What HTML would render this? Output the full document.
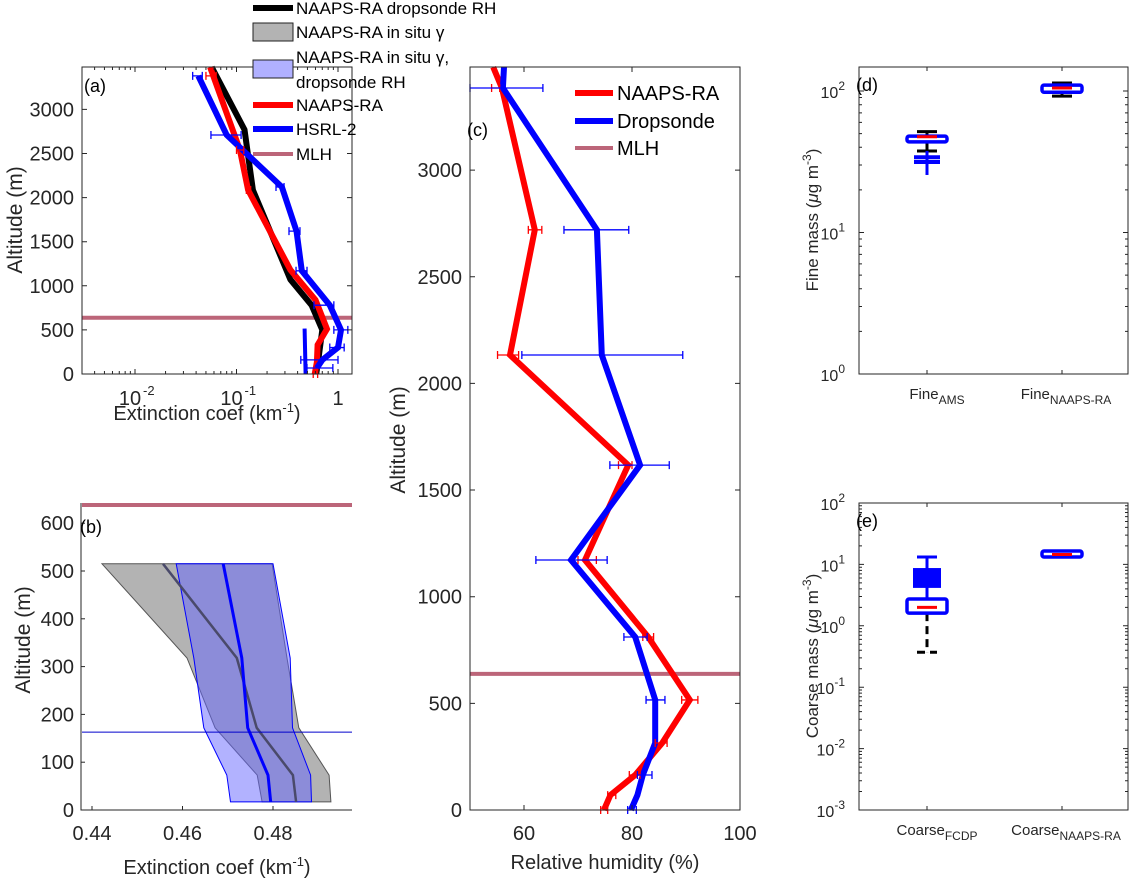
<!DOCTYPE html>
<html><head><meta charset="utf-8"><style>
html,body{margin:0;padding:0;background:#fff;}
svg{display:block;font-family:"Liberation Sans",Arial,sans-serif;}
</style></head><body>
<svg id="fig" width="1129" height="881" viewBox="0 0 1129 881" xmlns="http://www.w3.org/2000/svg">
<g id="g"></g>
</svg>
<script>
// ---------- data ----------
const aRedAlt = [3480, 2540, 2086, 1180, 840, 510, 330, 136, 0];
const aRedVal = [0.055, 0.108, 0.13, 0.34, 0.6, 0.78, 0.63, 0.62, 0.59];
const aBlkAlt = [3480, 2770, 2086, 1070, 780, 500, 160, 0];
const aBlkVal = [0.057, 0.12, 0.145, 0.34, 0.55, 0.70, 0.64, 0.61];
const aBluAlt = [3380, 2710, 2120, 1620, 1170, 780, 500, 300, 160, 68];
const aBluVal = [0.042, 0.08, 0.28, 0.39, 0.44, 0.83, 1.07, 1.0, 0.70, 0.62];
const aBluLo = [0.037, 0.056, 0.245, 0.329, 0.386, 0.58, 0.91, 0.83, 0.43, 0.495];
const aBluHi = [0.046, 0.111, 0.294, 0.422, 0.495, 0.91, 1.25, 1.15, 1.0, 0.89];
const aRedErrAlt = [3380, 2540, 2086, 0];
const aRedErrLo = [0.05, 0.1, 0.125, 0.57];
const aRedErrHi = [0.063, 0.118, 0.138, 0.63];
const aInsituAlt = [515, 0];
const aInsituVal = [0.469, 0.4795];
const mlh = 638;
const bAlt = [515, 318, 172, 73, 17];
const bGreyLo = [0.4422, 0.461, 0.4672, 0.4765, 0.4776];
const bGreyHi = [0.4798, 0.4831, 0.4857, 0.4924, 0.4928];
const bGreyMid = [0.4557, 0.472, 0.4764, 0.4844, 0.4851];
const bBlueLo = [0.4586, 0.4625, 0.4647, 0.4698, 0.4706];
const bBlueHi = [0.4800, 0.4838, 0.4843, 0.4883, 0.4885];
const bBlueMid = [0.4690, 0.4731, 0.4744, 0.4789, 0.4795];
const bHline = 163;
const cAlt = [3483, 3385, 2720, 2133, 1617, 1172, 811, 516, 314, 164, 70, 0];
const cRed = [54.3, 55.9, 62.0, 57.4, 79.3, 71.3, 83, 90.7, 85.6, 80.6, 76, 74.8];
const cBlue = [56.3, 56.1, 73.5, 74.4, 81.5, 68.7, 80.6, 84.3, 84.3, 82, 81, 79.8];
const cBErrAlt = [3385, 2720, 2133, 1617, 1172, 811, 516, 164, 0];
const cBErrLo = [50, 67.4, 59.6, 75.9, 62.2, 78.5, 82.6, 81, 79.2];
const cBErrHi = [63.5, 79.4, 89.4, 86.9, 75.4, 82.8, 86.1, 83.7, 80.8];
const cRErrAlt = [3385, 2720, 2133, 1617, 1172, 811, 516, 314, 164, 70, 0];
const cRErrLo = [54.0, 60.8, 55.1, 77.5, 70.0, 82.0, 89.2, 84.3, 79.5, 75.5, 74.2];
const cRErrHi = [55.5, 63.3, 59.0, 80.0, 73.4, 84.0, 92.2, 86.5, 81.5, 77.0, 75.5];
const dCats = ["AMS", "NAAPS-RA"];
const dQ1 = [43.7, 98], dQ3 = [48, 110], dMed = [47.5, 105], dWLo = [37.7, 92], dWHi = [51.6, 114];
const dOutliers = [[34, 31.5, 25.5], []];
const eCats = ["FCDP", "NAAPS-RA"];
const eQ1 = [1.61, 13.2], eQ3 = [2.73, 16.5], eMed = [2.0, 14.5], eWLo = [0.37, 13.2], eWHi = [13.2, 16.5];
const eOutLo = [4.3, null], eOutHi = [8.4, null];

// ---------- scales ----------
const L10 = Math.log10;
const xa = v => 338 + 101.5 * L10(v), ya = h => 374 - 0.0882 * h;
const xb = v => 92 + (v - 0.44) * 4525, yb = h => 810 - 0.478 * h;
const xc = v => 470 + (v - 50) * 5.4, yc = h => 810 - 0.2133 * h;
const yd = v => 374 - 141.5 * L10(v);
const ye = v => 625.8 - 61.4 * L10(v);
const catX = [927, 1062];

const G = document.getElementById('g');
const NS = 'http://www.w3.org/2000/svg';
function mk(tag, attrs) { const e = document.createElementNS(NS, tag); for (const k in attrs) e.setAttribute(k, attrs[k]); G.appendChild(e); return e; }
function pts(xs, ys) { return xs.map((x, i) => x.toFixed(1) + ',' + ys[i].toFixed(1)).join(' '); }
function txt(x, y, s, size, anchor, extra) { const e = mk('text', Object.assign({x: x, y: y, 'font-size': size, 'text-anchor': anchor || 'start', fill: '#262626'}, extra || {})); e.textContent = s; return e; }

// ===== Panel (a) =====
let e;
e = mk('line', {x1: 82, x2: 352, y1: ya(mlh), y2: ya(mlh), stroke: '#b04a62', 'stroke-opacity': 0.85, 'stroke-width': 4});


e = mk('polyline', {points: pts(aInsituVal.map(xa), aInsituAlt.map(ya)), fill: 'none', stroke: '#0000ff', 'stroke-width': 4});


e = mk('polyline', {points: pts(aBlkVal.map(xa), aBlkAlt.map(ya)), fill: 'none', stroke: '#000', 'stroke-width': 6, 'stroke-linejoin': 'round'});


e = mk('polyline', {points: pts(aRedVal.map(xa), aRedAlt.map(ya)), fill: 'none', stroke: '#ff0000', 'stroke-width': 6});


e = mk('polyline', {points: pts(aBluVal.map(xa), aBluAlt.map(ya)), fill: 'none', stroke: '#0000ff', 'stroke-width': 6});


for (let i = 0; i < aBluAlt.length; i++) {
  const y = ya(aBluAlt[i]), x1 = xa(aBluLo[i]), x2 = xa(aBluHi[i]);
  e = mk('path', {d: `M${x1},${y}H${x2}M${x1},${y-4}V${y+4}M${x2},${y-4}V${y+4}`, stroke: '#0000ff', 'stroke-width': 1.3, fill: 'none'});
  
  
}
for (let i = 0; i < aRedErrAlt.length; i++) {
  const y = ya(aRedErrAlt[i]), x1 = xa(aRedErrLo[i]), x2 = xa(aRedErrHi[i]);
  e = mk('path', {d: `M${x1},${y}H${x2}M${x1},${y-4}V${y+4}M${x2},${y-4}V${y+4}`, stroke: '#ff0000', 'stroke-width': 1.3, fill: 'none'});
  
  
}
e = mk('rect', {x: 82, y: 67, width: 270, height: 307, fill: 'none', stroke: '#262626', 'stroke-width': 1});


const aYT = [0, 500, 1000, 1500, 2000, 2500, 3000];
aYT.forEach(h => {
  const y = ya(h);
  e = mk('path', {d: `M82,${y}h5M352,${y}h-5`, stroke: '#262626'});
  
  
  e = txt(74, y + 7, String(h), 20, 'end');
  
  
});
for (let d = -3; d <= 0; d++) for (let m = 1; m < 10; m++) {
  const v = m * Math.pow(10, d), x = xa(v);
  if (x < 82 || x > 352) continue;
  const len = m === 1 ? 5 : 3;
  e = mk('path', {d: `M${x},374v-${len}M${x},67v${len}`, stroke: '#262626'});
  
  
}
const aXT = [[0.01, '10', '-2'], [0.1, '10', '-1'], [1, '1', '']];
aXT.forEach(t => {
  e = txt(xa(t[0]) - (t[2] ? 5 : 0), 405, t[1], 20, 'middle');
  
  
  if (t[2]) { e = txt(xa(t[0]) + 8, 395, t[2], 13, 'start');   }
});
e = txt(207, 420, '', 20, 'middle');
e.innerHTML = 'Extinction coef (km<tspan dy="-8" font-size="13">-1</tspan><tspan dy="8">)</tspan>';


e = txt(0, 0, 'Altitude (m)', 21, 'middle', {transform: 'translate(22,220) rotate(-90)'});


e = txt(84, 92, '(a)', 18, 'start', {fill: '#000'});



const legA = [
  {t: 'line', c: '#000', y: 8, s: ['NAAPS-RA dropsonde RH']},
  {t: 'patch', c: '#b3b3b3', y: 32, s: ['NAAPS-RA in situ γ']},
  {t: 'patch', c: '#b0b0ff', y: 69, s: ['NAAPS-RA in situ γ,', 'dropsonde RH']},
  {t: 'line', c: '#ff0000', y: 105, s: ['NAAPS-RA']},
  {t: 'line', c: '#0000ff', y: 129, s: ['HSRL-2']},
  {t: 'mlh', c: '#b04a62', y: 154, s: ['MLH']}
];
legA.forEach(l => {
  if (l.t === 'patch') {
    e = mk('rect', {x: 253, y: l.y - 9, width: 40, height: 18, fill: l.c, stroke: '#222', 'stroke-width': 1});
  } else {
    e = mk('line', {x1: 253, x2: 293, y1: l.y, y2: l.y, stroke: l.c, 'stroke-width': l.t === 'mlh' ? 4 : 6, 'stroke-opacity': l.t === 'mlh' ? 0.85 : 1});
  }
  
  
  if (l.s.length === 1) {
    e = txt(296, l.y + 6, l.s[0], 17, 'start', {fill: '#000'});
  } else {
    e = txt(296, l.y - 6, l.s[0], 17, 'start', {fill: '#000'});
    
    
    e = txt(296, l.y + 19, l.s[1], 17, 'start', {fill: '#000'});
  }
  
  
});

// ===== Panel (b) =====
e = mk('line', {x1: 82, x2: 352, y1: yb(mlh), y2: yb(mlh), stroke: '#b04a62', 'stroke-opacity': 0.85, 'stroke-width': 4});


e = mk('polygon', {points: pts(bGreyLo.concat(bGreyHi.slice().reverse()).map(xb), bAlt.concat(bAlt.slice().reverse()).map(yb)), fill: '#808080', 'fill-opacity': 0.6, stroke: '#555', 'stroke-width': 1});


e = mk('polygon', {points: pts(bBlueLo.concat(bBlueHi.slice().reverse()).map(xb), bAlt.concat(bAlt.slice().reverse()).map(yb)), fill: '#6666ff', 'fill-opacity': 0.5, stroke: '#0000ff', 'stroke-width': 1});


e = mk('polyline', {points: pts(bGreyMid.map(xb), bAlt.map(yb)), fill: 'none', stroke: '#4a4a6a', 'stroke-width': 2.5});


e = mk('polyline', {points: pts(bBlueMid.map(xb), bAlt.map(yb)), fill: 'none', stroke: '#0000ff', 'stroke-width': 3});


e = mk('line', {x1: 82, x2: 352, y1: yb(bHline), y2: yb(bHline), stroke: '#0000cc', 'stroke-width': 1});


e = mk('path', {d: 'M81,503V810H352', fill: 'none', stroke: '#262626', 'stroke-width': 1});


[0, 100, 200, 300, 400, 500, 600].forEach(h => {
  const y = yb(h);
  e = mk('path', {d: `M81,${y}h4`, stroke: '#262626'});
  
  
  e = txt(74, y + 7, String(h), 20, 'end');
  
  
});
[0.44, 0.46, 0.48].forEach(v => {
  const x = xb(v);
  e = mk('path', {d: `M${x},810v-4`, stroke: '#262626'});
  
  
  e = txt(x, 840, v.toFixed(2), 20, 'middle');
  
  
});
e = txt(217, 874, '', 20, 'middle');
e.innerHTML = 'Extinction coef (km<tspan dy="-8" font-size="13">-1</tspan><tspan dy="8">)</tspan>';


e = txt(0, 0, 'Altitude (m)', 21, 'middle', {transform: 'translate(30,640) rotate(-90)'});


e = txt(80, 533, '(b)', 18, 'start', {fill: '#000'});



// ===== Panel (c) =====
e = mk('line', {x1: 470, x2: 740, y1: yc(mlh), y2: yc(mlh), stroke: '#b04a62', 'stroke-opacity': 0.85, 'stroke-width': 4});


e = mk('polyline', {points: pts(cRed.map(xc), cAlt.map(yc)), fill: 'none', stroke: '#ff0000', 'stroke-width': 6});


e = mk('polyline', {points: pts(cBlue.map(xc), cAlt.map(yc)), fill: 'none', stroke: '#0000ff', 'stroke-width': 6});


for (let i = 0; i < cRErrAlt.length; i++) {
  const y = yc(cRErrAlt[i]), x1 = xc(cRErrLo[i]), x2 = xc(cRErrHi[i]);
  e = mk('path', {d: `M${x1},${y}H${x2}M${x1},${y-4}V${y+4}M${x2},${y-4}V${y+4}`, stroke: '#ff0000', 'stroke-width': 1.3, fill: 'none'});
  
  
}
for (let i = 0; i < cBErrAlt.length; i++) {
  const y = yc(cBErrAlt[i]), x1 = xc(cBErrLo[i]), x2 = xc(cBErrHi[i]);
  e = mk('path', {d: `M${x1},${y}H${x2}M${x1},${y-4}V${y+4}M${x2},${y-4}V${y+4}`, stroke: '#0000ff', 'stroke-width': 1.3, fill: 'none'});
  
  
}
e = mk('rect', {x: 470, y: 67, width: 270, height: 743, fill: 'none', stroke: '#262626', 'stroke-width': 1});


[0, 500, 1000, 1500, 2000, 2500, 3000].forEach(h => {
  const y = yc(h);
  e = mk('path', {d: `M470,${y}h5M740,${y}h-5`, stroke: '#262626'});
  
  
  e = txt(462, y + 7, String(h), 20, 'end');
  
  
});
[60, 80, 100].forEach(v => {
  const x = xc(v);
  e = mk('path', {d: `M${x},810v-5M${x},67v5`, stroke: '#262626'});
  
  
  e = txt(x, 840, String(v), 20, 'middle');
  
  
});
e = txt(605, 869, 'Relative humidity (%)', 20, 'middle');


e = txt(0, 0, 'Altitude (m)', 21, 'middle', {transform: 'translate(405,440) rotate(-90)'});


e = txt(467, 136, '(c)', 18, 'start', {fill: '#000'});


const legC = [['#ff0000', 93, 'NAAPS-RA', 6, 1], ['#0000ff', 121, 'Dropsonde', 6, 1], ['#b04a62', 148, 'MLH', 4, 0.85]];
legC.forEach(l => {
  e = mk('line', {x1: 575, x2: 613, y1: l[1], y2: l[1], stroke: l[0], 'stroke-width': l[3], 'stroke-opacity': l[4]});
  
  
  e = txt(617, l[1] + 7, l[2], 20, 'start', {fill: '#000'});
  
  
});

// ===== Panels (d),(e) =====
function logAxes(top, bot, yf, decs, pfx, cats, ttl, ttlY) {
  e = mk('rect', {x: 859, y: top, width: 269, height: bot - top, fill: 'none', stroke: '#262626', 'stroke-width': 1});
  
  
  for (let d = decs[0]; d <= decs[1]; d++) for (let m = 1; m < 10; m++) {
    const y = yf(m * Math.pow(10, d));
    if (y < top - 0.5 || y > bot + 0.5) continue;
    const len = m === 1 ? 5 : 3;
    e = mk('path', {d: `M859,${y}h${len}M1128,${y}h-${len}`, stroke: '#262626'});
    
    
    if (m === 1) {
      e = txt(845, y + 7, '', 16, 'end');
      e.innerHTML = '10<tspan dy="-8" font-size="12">' + d + '</tspan>';
      
      
    }
  }
  cats.forEach((c, i) => {
    const x = catX[i];
    e = mk('path', {d: `M${x},${bot}v-4M${x},${top}v4`, stroke: '#262626'});
    
    
    e = txt(x + (i ? 4 : 10), bot + 25, '', 15, 'middle');
    e.innerHTML = c[0] + '<tspan dy="5" font-size="12">' + c[1] + '</tspan>';
    
    
  });
  e = txt(0, 0, '', 17, 'middle', {transform: `translate(818,${ttlY}) rotate(-90)`});
  e.innerHTML = ttl + ' (<tspan font-style="italic">μ</tspan>g m<tspan dy="-7" font-size="12">-3</tspan><tspan dy="7">)</tspan>';
  
  
}
logAxes(67, 374, yd, [0, 2], 'd', [['Fine', 'AMS'], ['Fine', 'NAAPS-RA']], 'Fine mass', 220);
logAxes(503, 810, ye, [-3, 2], 'e', [['Coarse', 'FCDP'], ['Coarse', 'NAAPS-RA']], 'Coarse mass', 656);
e = txt(856, 91, '(d)', 18, 'start', {fill: '#000'});


e = txt(856, 527, '(e)', 18, 'start', {fill: '#000'});



function box(i, yf, q1, q3, med, wlo, whi, pfx) {
  const x = catX[i], y1 = yf(q3), y2 = yf(q1), ym = yf(med);
  e = mk('path', {d: `M${x},${y2}V${yf(wlo)}M${x-10},${yf(wlo)}h20`, stroke: '#000', 'stroke-width': 3, 'stroke-dasharray': pfx === 'e' && i === 0 ? '8,5' : 'none', fill: 'none'});
  
  
  e = mk('path', {d: `M${x},${y1}V${yf(whi)}M${x-10},${yf(whi)}h20`, stroke: i === 0 && pfx === 'e' ? '#0000ff' : '#000', 'stroke-width': 3, fill: 'none'});
  
  
  e = mk('rect', {x: x - 20, y: y1, width: 40, height: Math.max(y2 - y1, 3), rx: 2, fill: 'none', stroke: '#0000ff', 'stroke-width': 3.5});
  
  
  e = mk('line', {x1: x - 10, x2: x + 10, y1: ym, y2: ym, stroke: '#ff0000', 'stroke-width': 3});
  
  
}
for (let i = 0; i < 2; i++) {
  box(i, yd, dQ1[i], dQ3[i], dMed[i], dWLo[i], dWHi[i], 'd');
  dOutliers[i].forEach((v, k) => {
    const y = yd(v);
    if (k === dOutliers[i].length - 1) {
      e = mk('line', {x1: catX[i], x2: catX[i], y1: yd(dWLo[i]), y2: y, stroke: '#0000ff', 'stroke-width': 3});
    } else {
      e = mk('line', {x1: catX[i] - 13, x2: catX[i] + 13, y1: y, y2: y, stroke: '#0000ff', 'stroke-width': 4});
    }
    
    
  });
}
for (let i = 0; i < 2; i++) {
  if (eOutLo[i] !== null) {
    e = mk('rect', {x: catX[i] - 13, y: ye(eOutHi[i]), width: 26, height: ye(eOutLo[i]) - ye(eOutHi[i]), fill: '#0000ff', stroke: '#0000ff', 'stroke-width': 2});
    
    
  }
  box(i, ye, eQ1[i], eQ3[i], eMed[i], eWLo[i], eWHi[i], 'e');
}
</script>
</body></html>
